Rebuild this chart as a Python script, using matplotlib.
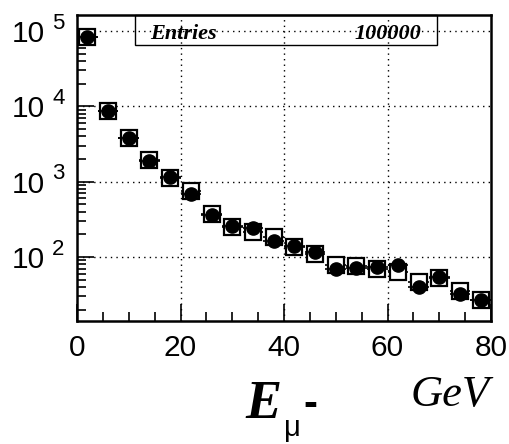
import numpy as np
import matplotlib
matplotlib.use("Agg")
import matplotlib.pyplot as plt
from matplotlib.patches import Rectangle

# bin centres (GeV) and contents
e_mu = [2, 6, 10, 14, 18, 22, 26, 30, 34, 38, 42, 46, 50, 54, 58, 62, 66, 70, 74, 78]
sq_counts = [82000, 8770, 3800, 1940, 1110, 746, 373, 250, 215, 183,
             136, 109, 78, 75, 70, 64, 47, 52, 35, 27]
dot_counts = [82000, 8770, 3770, 1900, 1144, 681, 361, 258, 245, 165,
              141, 115, 69, 71, 74, 78, 40, 55, 32, 27]
bin_half = 2
y_exps = [2, 3, 4, 5]
x_ticks = [0, 20, 40, 60, 80]
entries = "100000"

W, H = 510, 444
fig = plt.figure(figsize=(W / 100, H / 100), dpi=100)
ax = fig.add_axes([77 / W, 1 - 321 / H, 414 / W, 306 / H])
ax.set_yscale("log")
ax.set_xlim(0, 80)
ax.set_ylim(10 ** 1.15, 10 ** 5.2125)

sq = np.array(sq_counts, dtype=float)
dt = np.array(dot_counts, dtype=float)
ax.errorbar(e_mu, sq, xerr=bin_half, yerr=np.sqrt(sq), fmt='s', ms=12,
            mfc='white', mec='black', mew=1.6, ecolor='black', elinewidth=1.2,
            capsize=0, zorder=3)
ax.errorbar(e_mu, dt, xerr=bin_half, yerr=np.sqrt(dt), fmt='o', ms=9.5,
            mfc='black', mec='black', ecolor='black', elinewidth=1.2,
            capsize=0, zorder=4)

# grid
for x in x_ticks[1:-1]:
    ax.axvline(x, color='black', lw=1, ls=(0, (1, 3)), zorder=1)
for e in y_exps:
    ax.axhline(10 ** e, color='black', lw=1, ls=(0, (1, 3)), zorder=1)

for s in ax.spines.values():
    s.set_linewidth(1.8)

ax.set_xticks(x_ticks)
ax.set_xticks(np.arange(0, 81, 5), minor=True)
ax.tick_params(axis='x', which='major', direction='in', length=12, width=1.2,
               pad=9, labelsize=21.5)
ax.tick_params(axis='x', which='minor', direction='in', length=6.5, width=1.2)
ax.tick_params(axis='y', which='major', direction='in', length=12, width=1.2,
               labelleft=False)
ax.tick_params(axis='y', which='minor', direction='in', length=6.5, width=1.2,
               labelleft=False)
for lab in ax.get_xticklabels():
    lab.set_family('Liberation Sans')

# y labels in ROOT style: "10" and a big exponent
tr = ax.get_yaxis_transform()
for e in y_exps:
    ax.text(-0.077, 10 ** e, "10", transform=tr, ha='right', va='center_baseline',
            fontsize=21.5, family='Liberation Sans', clip_on=False)
    ax.text(-0.060, 10 ** (e + 0.135), str(e), transform=tr, ha='left',
            va='center_baseline', fontsize=16, family='Liberation Sans', clip_on=False)

# stats box
ax.add_patch(Rectangle((0.140, 0.902), 0.730, 0.098, transform=ax.transAxes,
                       fill=False, ec='black', lw=1, zorder=5, clip_on=False))
ax.text(0.176, 0.923, "Entries", transform=ax.transAxes, ha='left', va='baseline',
        fontsize=16, family='Liberation Serif', weight='bold', style='italic', zorder=6)
ax.text(0.831, 0.923, entries, transform=ax.transAxes, ha='right', va='baseline',
        fontsize=16, family='Liberation Serif', weight='bold', style='italic', zorder=6)

# axis title
fig.text(245 / W, 1 - 418 / H, "E", ha='left', va='baseline', fontsize=39,
         family='Liberation Serif', weight='bold', style='italic')
fig.text(284 / W, 1 - 436 / H, "\u03bc", ha='left', va='baseline', fontsize=21,
         family='Liberation Sans')
fig.text(303 / W, 1 - 416 / H, "-", ha='left', va='baseline', fontsize=30,
         family='Liberation Sans', weight='bold')
fig.text(490 / W, 1 - 406 / H, "GeV", ha='right', va='baseline', fontsize=32,
         family='Liberation Serif', style='italic')

fig.savefig("out.png", dpi=100)
